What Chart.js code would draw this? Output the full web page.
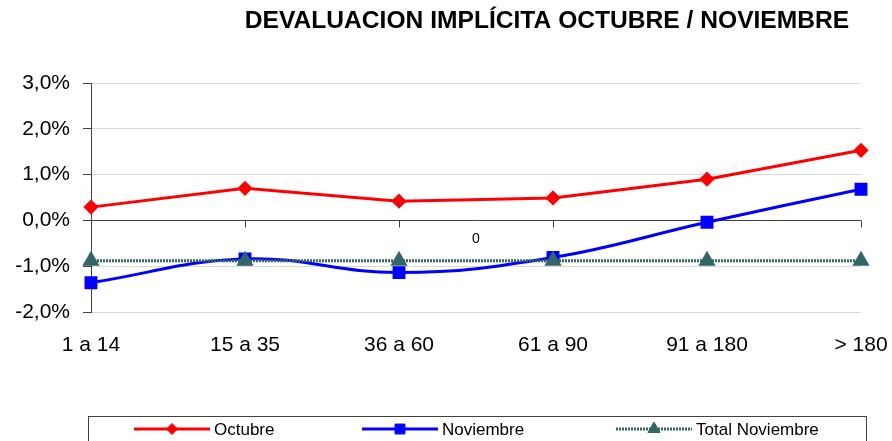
<!DOCTYPE html>
<html>
<head>
<meta charset="utf-8">
<script src="https://cdn.jsdelivr.net/npm/chart.js@4/dist/chart.umd.min.js"></script>
<style>
  html, body { margin: 0; padding: 0; background: #fff; }
</style>
</head>
<body>
<canvas id="grafico" width="892" height="441"></canvas>
<script>
// datos (en %)
var plazos = ["1 a 14", "15 a 35", "36 a 60", "61 a 90", "91 a 180", "> 180"];
var octubre = [0.29, 0.70, 0.42, 0.49, 0.90, 1.53];
var noviembre = [-1.36, -0.84, -1.14, -0.81, -0.04, 0.68];
var totalNoviembre = [-0.88, -0.88, -0.88, -0.88, -0.88, -0.88];
var yMin = -2, yMax = 3, yPaso = 1;
var titulo = "DEVALUACION IMPLÍCITA OCTUBRE / NOVIEMBRE";
// etiqueta suelta "0" que aparece entre 36 a 60 y 61 a 90
var etiquetaX = 2.5, etiquetaY = -0.40, etiquetaTexto = "0";

var fuente = '"Liberation Sans", Arial, sans-serif';

var extras = {
  id: 'extras',
  beforeDatasetsDraw: function (chart) {
    // marcas del eje x sobre la linea del cero
    var ctx = chart.ctx, x = chart.scales.x, y = chart.scales.y;
    var y0 = Math.round(y.getPixelForValue(0)) + 0.5;
    ctx.save();
    ctx.strokeStyle = '#404040';
    ctx.lineWidth = 1;
    for (var i = 0; i < plazos.length; i++) {
      var px = Math.round(x.getPixelForValue(i)) + 0.5;
      ctx.beginPath();
      ctx.moveTo(px, y0);
      ctx.lineTo(px, y0 + 7);
      ctx.stroke();
    }
    ctx.restore();
  },
  afterDraw: function (chart) {
    var ctx = chart.ctx;
    ctx.save();
    // titulo
    ctx.fillStyle = '#000';
    ctx.font = 'bold 24.6px ' + fuente;
    ctx.textAlign = 'center';
    ctx.textBaseline = 'middle';
    ctx.fillText(titulo, 547, 21);

    // etiqueta "0"
    ctx.font = '14px ' + fuente;
    ctx.fillText(etiquetaTexto, chart.scales.x.getPixelForValue(etiquetaX), chart.scales.y.getPixelForValue(etiquetaY));

    // leyenda con recuadro
    ctx.strokeStyle = '#404040';
    ctx.lineWidth = 1;
    ctx.strokeRect(88.5, 416.5, 778, 40);
    var xs = [134, 362, 616];
    chart.data.datasets.forEach(function (ds, i) {
      var lx = xs[i], ly = 429;
      ctx.strokeStyle = ds.borderColor;
      ctx.lineWidth = 3;
      ctx.setLineDash(ds.borderDash || []);
      ctx.beginPath();
      ctx.moveTo(lx, ly);
      ctx.lineTo(lx + 76, ly);
      ctx.stroke();
      ctx.setLineDash([]);
      ctx.fillStyle = ds.pointBackgroundColor;
      ctx.strokeStyle = ds.pointBorderColor;
      ctx.lineWidth = 1;
      Chart.helpers.drawPoint(ctx, { pointStyle: ds.pointStyle, radius: ds.pointRadius, borderWidth: 1, rotation: 0 }, lx + 38, ly);
      ctx.fillStyle = '#000';
      ctx.font = '17px ' + fuente;
      ctx.textAlign = 'left';
      ctx.textBaseline = 'middle';
      ctx.fillText(ds.label, lx + 80, ly + 1);
    });
    ctx.restore();
  }
};

new Chart(document.getElementById('grafico'), {
  type: 'line',
  data: {
    labels: plazos,
    datasets: [
      {
        label: 'Octubre',
        data: octubre,
        borderColor: '#ff0000',
        borderWidth: 3,
        pointStyle: 'rectRot',
        pointRadius: 5.5,
        pointBackgroundColor: '#ff0000',
        pointBorderColor: '#ff0000',
        tension: 0,
        clip: false,
        order: 2
      },
      {
        label: 'Noviembre',
        data: noviembre,
        borderColor: '#0000ff',
        borderWidth: 3,
        pointStyle: 'rect',
        pointRadius: 7,
        pointBackgroundColor: '#0000ff',
        pointBorderColor: '#0000ff',
        tension: 0.4,
        clip: false,
        order: 1
      },
      {
        label: 'Total Noviembre',
        data: totalNoviembre,
        borderColor: '#336666',
        borderWidth: 3,
        borderDash: [2, 1],
        pointStyle: 'triangle',
        pointRadius: 7,
        pointBackgroundColor: '#336666',
        pointBorderColor: '#336666',
        tension: 0,
        clip: false,
        order: 0
      }
    ]
  },
  options: {
    responsive: false,
    animation: false,
    layout: { padding: { top: 83, right: 31, left: 0, bottom: 0 } },
    plugins: {
      legend: { display: false },
      title: { display: false },
      tooltip: { enabled: false }
    },
    scales: {
      x: {
        offset: false,
        grid: { display: false, drawTicks: false },
        border: { display: false },
        ticks: {
          color: '#000',
          font: { family: fuente, size: 21 },
          padding: 21,
          maxRotation: 0,
          autoSkip: false
        },
        afterFit: function (s) {
          s.height = 129;
          s.paddingLeft = 0;
          s.paddingRight = 0;
        }
      },
      y: {
        min: yMin,
        max: yMax,
        grid: {
          color: function (c) { return c.tick && c.tick.value === 0 ? '#404040' : '#d9d9d9'; },
          tickColor: '#404040',
          tickLength: 8
        },
        border: { display: true, color: '#404040' },
        ticks: {
          stepSize: yPaso,
          color: '#000',
          font: { family: fuente, size: 21 },
          padding: 13,
          callback: function (v) { return v.toFixed(1).replace('.', ',') + '%'; }
        },
        afterFit: function (s) { s.width = 91; }
      }
    }
  },
  plugins: [extras]
});
</script>
</body>
</html>
